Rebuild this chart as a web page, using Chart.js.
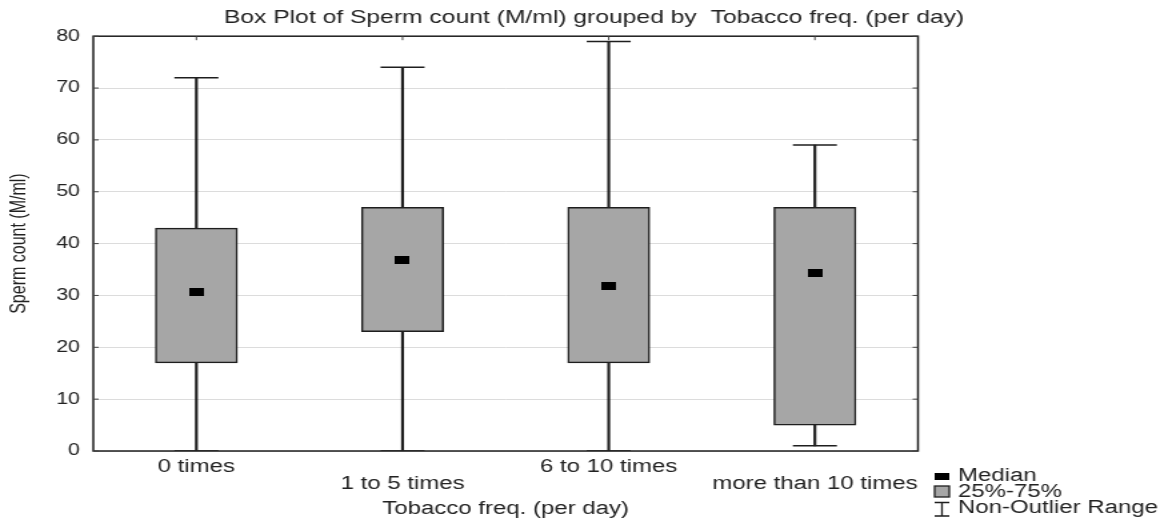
<!DOCTYPE html>
<html>
<head>
<meta charset="utf-8">
<script src="https://cdn.jsdelivr.net/npm/chart.js@4/dist/chart.umd.min.js"></script>
<style>
  html, body { margin: 0; padding: 0; background: #fff; overflow: hidden; }
  /* the reference is stretched sideways, so draw narrow and widen */
  #wrap { width: 876px; height: 522px; transform: scaleX(1.33333); transform-origin: 0 0; }
</style>
</head>
<body>
<div id="wrap"><canvas id="box" width="876" height="522"></canvas></div>
<script>
// values
const groups = ['0 times', '1 to 5 times', '6 to 10 times', 'more than 10 times'];
const whiskerLow = [0, 0, 0, 1];
const whiskerHigh = [72, 74, 79, 59];
const q1 = [17, 23, 17, 5];
const q3 = [43, 47, 47, 47];
const medians = [30.7, 36.8, 31.8, 34.3];
const yTicks = [0, 10, 20, 30, 40, 50, 60, 70, 80];

const ink = '#1e1e1e';
const boxGrey = '#a6a6a6';

Chart.defaults.font.family = "'Liberation Sans', Arial, sans-serif";
Chart.defaults.color = '#222';

// little black bar for the median
const medMark = document.createElement('canvas');
medMark.width = 11; medMark.height = 8;
let mctx = medMark.getContext('2d');
mctx.fillStyle = '#000';
mctx.fillRect(0, 0, 11, 8);

// frame, inner ticks and the legend
const framePlugin = {
  id: 'frame',
  afterDraw(chart) {
    const ctx = chart.ctx;
    const a = chart.chartArea;
    const x = chart.scales.x, y = chart.scales.y;
    ctx.save();
    ctx.strokeStyle = ink;
    ctx.lineWidth = 1.5;
    ctx.strokeRect(a.left, a.top, a.right - a.left, a.bottom - a.top);

    ctx.lineWidth = 1;
    ctx.strokeStyle = '#444';
    ctx.beginPath();
    yTicks.forEach(v => {
      let py = y.getPixelForValue(v);
      ctx.moveTo(a.left, py); ctx.lineTo(a.left + 4, py);
      ctx.moveTo(a.right, py); ctx.lineTo(a.right - 4, py);
    });
    groups.forEach((g, i) => {
      let px = x.getPixelForValue(i);
      ctx.moveTo(px, a.top); ctx.lineTo(px, a.top + 4);
    });
    ctx.stroke();

    // legend
    let lx = 701, lw = 11;
    ctx.fillStyle = '#000';
    ctx.fillRect(lx, 473, lw, 7);
    ctx.fillStyle = boxGrey;
    ctx.fillRect(lx, 486, lw, 11);
    ctx.strokeStyle = ink;
    ctx.lineWidth = 1.3;
    ctx.strokeRect(lx, 486, lw, 11);
    ctx.beginPath();
    ctx.moveTo(lx, 502.5); ctx.lineTo(lx + lw, 502.5);
    ctx.moveTo(lx + lw / 2, 502.5); ctx.lineTo(lx + lw / 2, 516);
    ctx.moveTo(lx, 516); ctx.lineTo(lx + lw, 516);
    ctx.stroke();

    ctx.fillStyle = '#222';
    ctx.font = "18px 'Liberation Sans', Arial, sans-serif";
    ctx.textBaseline = 'middle';
    ctx.textAlign = 'left';
    ctx.fillText('Median', 718.5, 476);
    ctx.fillText('25%-75%', 718.5, 492);
    ctx.fillText('Non-Outlier Range', 718.5, 508);
    ctx.restore();
  }
};

const ctx = document.getElementById('box').getContext('2d');
const boxChart = new Chart(ctx, {
  type: 'bar',
  data: {
    labels: groups,
    datasets: [
      {type: 'line', label: 'Median', data: medians, showLine: false,
        pointStyle: medMark, pointRadius: 5, order: 0},
      {type: 'line', label: 'max', data: whiskerHigh, showLine: false,
        pointStyle: 'line', pointRadius: 16.5, borderColor: ink, pointBorderWidth: 1.5, order: 1},
      {type: 'line', label: 'min', data: whiskerLow, showLine: false,
        pointStyle: 'line', pointRadius: 16.5, borderColor: ink, pointBorderWidth: 1.5, order: 1},
      {label: '25%-75%', data: q1.map((v, i) => [v, q3[i]]),
        backgroundColor: boxGrey, borderColor: ink, borderWidth: 1.5, borderSkipped: false,
        barThickness: 61.5, grouped: false, order: 2},
      {label: 'range', data: whiskerLow.map((v, i) => [v, whiskerHigh[i]]),
        backgroundColor: ink, borderWidth: 0, barThickness: 1.5, grouped: false, order: 3}
    ]
  },
  options: {
    responsive: false,
    animation: false,
    layout: {padding: {left: 15, right: 0, top: 0, bottom: 0}},
    plugins: {
      legend: {display: false},
      tooltip: {enabled: false},
      title: {display: true,
        text: 'Box Plot of Sperm count (M/ml) grouped by  Tobacco freq. (per day)',
        font: {size: 18.5, weight: 'normal'}, color: '#222',
        padding: {top: 7, bottom: 7}}
    },
    scales: {
      x: {
        grid: {display: false, drawTicks: false},
        border: {display: false},
        ticks: {
          padding: 7, color: '#222', maxRotation: 0, autoSkip: false,
          font: {size: 18, lineHeight: 0.95},
          callback: function(val, i) {
            let t = groups[i];
            return i % 2 ? ['', t] : [t, ''];
          }
        },
        title: {display: true, text: 'Tobacco freq. (per day)',
          font: {size: 18}, color: '#222', padding: {top: 0, bottom: 2}},
        afterFit: function(s) { s.height = 71; }
      },
      y: {
        min: 0, max: 80,
        grid: {color: '#dcdcdc', drawTicks: false, lineWidth: 1},
        border: {display: false},
        ticks: {stepSize: 10, padding: 10, color: '#222', font: {size: 16}},
        title: {display: true, text: 'Sperm count (M/ml)',
          font: {size: 16}, color: '#222', padding: {top: -10, bottom: 0}},
        afterFit: function(s) { s.width = 55; }
      },
      yr: {
        position: 'right',
        display: true,
        grid: {display: false, drawTicks: false},
        border: {display: false},
        ticks: {display: false},
        afterFit: function(s) { s.width = 187.5; }
      }
    }
  },
  plugins: [framePlugin]
});
</script>
</body>
</html>
